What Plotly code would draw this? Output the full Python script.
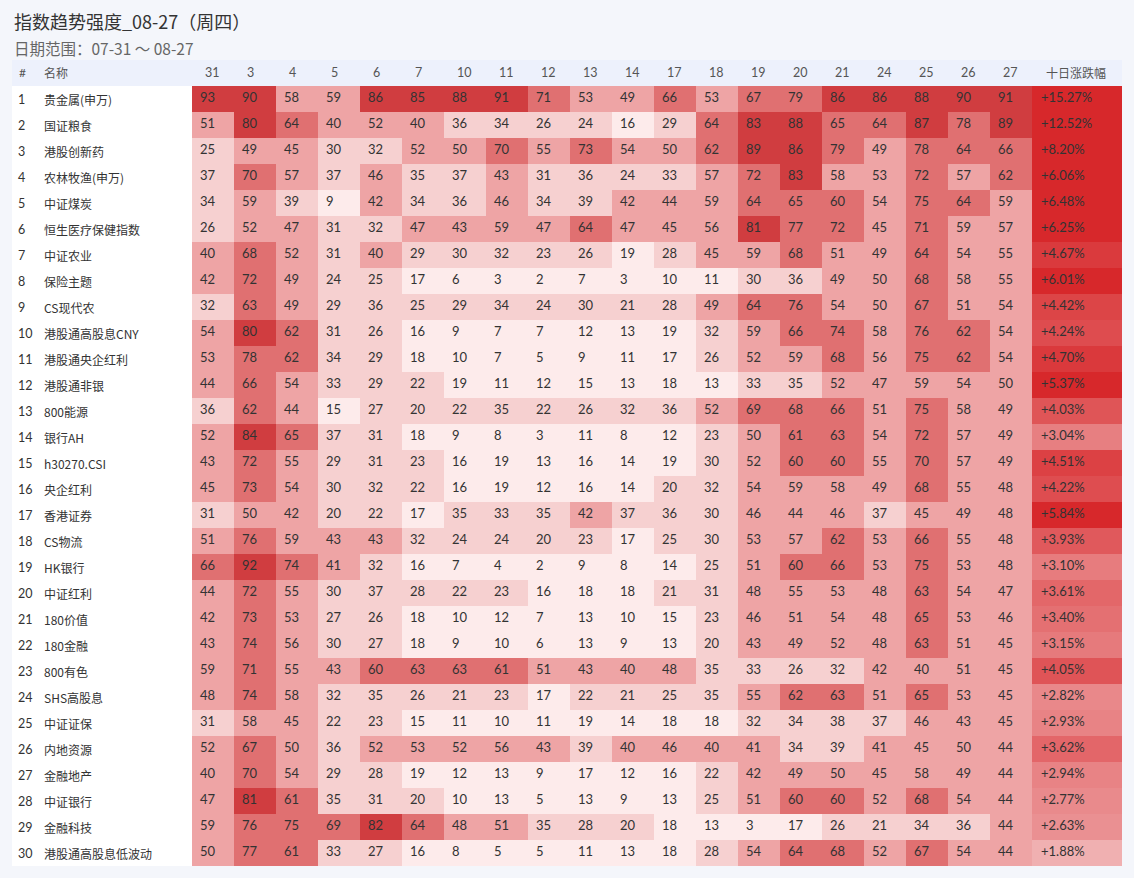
import plotly.graph_objects as go

# ---------------- data ----------------
title_text = "指数趋势强度_08-27（周四）"
subtitle_text = "日期范围：07-31 ～ 08-27"
dates = ["31", "3", "4", "5", "6", "7", "10", "11", "12", "13",
         "14", "17", "18", "19", "20", "21", "24", "25", "26", "27"]
names = ["贵金属(申万)", "国证粮食", "港股创新药", "农林牧渔(申万)", "中证煤炭",
         "恒生医疗保健指数", "中证农业", "保险主题", "CS现代农", "港股通高股息CNY",
         "港股通央企红利", "港股通非银", "800能源", "银行AH", "h30270.CSI",
         "央企红利", "香港证券", "CS物流", "HK银行", "中证红利",
         "180价值", "180金融", "800有色", "SHS高股息", "中证证保",
         "内地资源", "金融地产", "中证银行", "金融科技", "港股通高股息低波动"]
scores = [
    [93, 90, 58, 59, 86, 85, 88, 91, 71, 53, 49, 66, 53, 67, 79, 86, 86, 88, 90, 91],
    [51, 80, 64, 40, 52, 40, 36, 34, 26, 24, 16, 29, 64, 83, 88, 65, 64, 87, 78, 89],
    [25, 49, 45, 30, 32, 52, 50, 70, 55, 73, 54, 50, 62, 89, 86, 79, 49, 78, 64, 66],
    [37, 70, 57, 37, 46, 35, 37, 43, 31, 36, 24, 33, 57, 72, 83, 58, 53, 72, 57, 62],
    [34, 59, 39, 9, 42, 34, 36, 46, 34, 39, 42, 44, 59, 64, 65, 60, 54, 75, 64, 59],
    [26, 52, 47, 31, 32, 47, 43, 59, 47, 64, 47, 45, 56, 81, 77, 72, 45, 71, 59, 57],
    [40, 68, 52, 31, 40, 29, 30, 32, 23, 26, 19, 28, 45, 59, 68, 51, 49, 64, 54, 55],
    [42, 72, 49, 24, 25, 17, 6, 3, 2, 7, 3, 10, 11, 30, 36, 49, 50, 68, 58, 55],
    [32, 63, 49, 29, 36, 25, 29, 34, 24, 30, 21, 28, 49, 64, 76, 54, 50, 67, 51, 54],
    [54, 80, 62, 31, 26, 16, 9, 7, 7, 12, 13, 19, 32, 59, 66, 74, 58, 76, 62, 54],
    [53, 78, 62, 34, 29, 18, 10, 7, 5, 9, 11, 17, 26, 52, 59, 68, 56, 75, 62, 54],
    [44, 66, 54, 33, 29, 22, 19, 11, 12, 15, 13, 18, 13, 33, 35, 52, 47, 59, 54, 50],
    [36, 62, 44, 15, 27, 20, 22, 35, 22, 26, 32, 36, 52, 69, 68, 66, 51, 75, 58, 49],
    [52, 84, 65, 37, 31, 18, 9, 8, 3, 11, 8, 12, 23, 50, 61, 63, 54, 72, 57, 49],
    [43, 72, 55, 29, 31, 23, 16, 19, 13, 16, 14, 19, 30, 52, 60, 60, 55, 70, 57, 49],
    [45, 73, 54, 30, 32, 22, 16, 19, 12, 16, 14, 20, 32, 54, 59, 58, 49, 68, 55, 48],
    [31, 50, 42, 20, 22, 17, 35, 33, 35, 42, 37, 36, 30, 46, 44, 46, 37, 45, 49, 48],
    [51, 76, 59, 43, 43, 32, 24, 24, 20, 23, 17, 25, 30, 53, 57, 62, 53, 66, 55, 48],
    [66, 92, 74, 41, 32, 16, 7, 4, 2, 9, 8, 14, 25, 51, 60, 66, 53, 75, 53, 48],
    [44, 72, 55, 30, 37, 28, 22, 23, 16, 18, 18, 21, 31, 48, 55, 53, 48, 63, 54, 47],
    [42, 73, 53, 27, 26, 18, 10, 12, 7, 13, 10, 15, 23, 46, 51, 54, 48, 65, 53, 46],
    [43, 74, 56, 30, 27, 18, 9, 10, 6, 13, 9, 13, 20, 43, 49, 52, 48, 63, 51, 45],
    [59, 71, 55, 43, 60, 63, 63, 61, 51, 43, 40, 48, 35, 33, 26, 32, 42, 40, 51, 45],
    [48, 74, 58, 32, 35, 26, 21, 23, 17, 22, 21, 25, 35, 55, 62, 63, 51, 65, 53, 45],
    [31, 58, 45, 22, 23, 15, 11, 10, 11, 19, 14, 18, 18, 32, 34, 38, 37, 46, 43, 45],
    [52, 67, 50, 36, 52, 53, 52, 56, 43, 39, 40, 46, 40, 41, 34, 39, 41, 45, 50, 44],
    [40, 70, 54, 29, 28, 19, 12, 13, 9, 17, 12, 16, 22, 42, 49, 50, 45, 58, 49, 44],
    [47, 81, 61, 35, 31, 20, 10, 13, 5, 13, 9, 13, 25, 51, 60, 60, 52, 68, 54, 44],
    [59, 76, 75, 69, 82, 64, 48, 51, 35, 28, 20, 18, 13, 3, 17, 26, 21, 34, 36, 44],
    [50, 77, 61, 33, 27, 16, 8, 5, 5, 11, 13, 18, 28, 54, 64, 68, 52, 67, 54, 44],
]
pct_change = [15.27, 12.52, 8.20, 6.06, 6.48, 6.25, 4.67, 6.01, 4.42, 4.24,
              4.70, 5.37, 4.03, 3.04, 4.51, 4.22, 5.84, 3.93, 3.10, 3.61,
              3.40, 3.15, 4.05, 2.82, 2.93, 3.62, 2.94, 2.77, 2.63, 1.88]
header_hash = "#"
header_name = "名称"
header_pct = "十日涨跌幅"

# ---------------- style / geometry ----------------
W, H = 1134, 878
BG = "#f4f6fb"
HEADER_BG = "#edf1fc"
TXT = "#333333"
HDR_TXT = "#555555"
FONT = "Lato, 'Noto Sans CJK SC', sans-serif"
CJK = "'Noto Sans CJK SC', Lato, sans-serif"

TABLE_L, TABLE_R = 12, 1122
HM_L, HM_R = 192, 1032
HDR_T, BODY_T, BODY_B = 60, 86, 866
COL_W = (HM_R - HM_L) / len(dates)
PCT_W = TABLE_R - HM_R


def px(x):
    return x / W


def py(y):
    return 1 - y / H


bin_colors = ["#fdebeb", "#f6d0d0", "#eea4a5", "#e07071", "#d03d40"]
edges = [0.195, 0.395, 0.595, 0.795]
scale = [[0, bin_colors[0]]]
for i, e in enumerate(edges):
    scale += [[e, bin_colors[i]], [e, bin_colors[i + 1]]]
scale += [[1, bin_colors[-1]]]

n_rows, n_cols = len(names), len(dates)
rows = list(range(n_rows))
cols = list(range(n_cols))

fig = go.Figure()

fig.add_trace(go.Heatmap(
    z=scores, x=cols, y=rows, zmin=0, zmax=100, colorscale=scale,
    showscale=False, hoverinfo="skip", xaxis="x", yaxis="y"))

fig.add_trace(go.Heatmap(
    z=[[v] for v in pct_change], x=[0], y=rows, zmin=0, zmax=5.1,
    colorscale=[[0, "#ffffff"], [1, "#d7282b"]],
    showscale=False, hoverinfo="skip", xaxis="x2", yaxis="y"))

# cell value texts (left aligned inside cells)
pad_cell = 8 / COL_W
tx, ty, tt = [], [], []
for r in rows:
    for c in cols:
        tx.append(c - 0.5 + pad_cell)
        ty.append(r)
        tt.append(str(scores[r][c]))
fig.add_trace(go.Scatter(
    x=tx, y=ty, text=tt, mode="text", textposition="middle right",
    textfont=dict(family=FONT, size=13, color=TXT),
    hoverinfo="skip", showlegend=False, xaxis="x", yaxis="y", cliponaxis=False))

pad_pct = 9 / PCT_W
fig.add_trace(go.Scatter(
    x=[-0.5 + pad_pct] * n_rows, y=rows,
    text=[f"{v:+.2f}%" for v in pct_change], mode="text",
    textposition="middle right",
    textfont=dict(family=FONT, size=13, color=TXT),
    hoverinfo="skip", showlegend=False, xaxis="x2", yaxis="y", cliponaxis=False))

annotations = []
# title / subtitle
annotations.append(dict(text=title_text, xref="paper", yref="paper",
                        x=px(12), y=py(21), xanchor="left", yanchor="middle",
                        showarrow=False, font=dict(family=CJK, size=18, color=TXT)))
annotations.append(dict(text=subtitle_text, xref="paper", yref="paper",
                        x=px(12), y=py(48), xanchor="left", yanchor="middle",
                        showarrow=False, font=dict(family=CJK, size=15.5, color="#666666")))
# header row
hdr_y = py((HDR_T + BODY_T) / 2)
annotations.append(dict(text=header_hash, xref="paper", yref="paper", x=px(17), y=hdr_y,
                        xanchor="left", yanchor="middle", showarrow=False,
                        font=dict(family=FONT, size=12, color=HDR_TXT)))
annotations.append(dict(text=header_name, xref="paper", yref="paper", x=px(42), y=hdr_y,
                        xanchor="left", yanchor="middle", showarrow=False,
                        font=dict(family=CJK, size=12, color=HDR_TXT)))
for c, d in zip(cols, dates):
    annotations.append(dict(text=d, xref="x", yref="paper", x=c - 0.5 + 11 / COL_W, y=hdr_y,
                            xanchor="left", yanchor="middle", showarrow=False,
                            font=dict(family=FONT, size=12.5, color=HDR_TXT)))
annotations.append(dict(text=header_pct, xref="x2", yref="paper", x=-0.5 + 12 / PCT_W, y=hdr_y,
                        xanchor="left", yanchor="middle", showarrow=False,
                        font=dict(family=CJK, size=12, color=HDR_TXT)))
# row numbers and names
for r, nm in zip(rows, names):
    annotations.append(dict(text=str(r + 1), xref="paper", yref="y", x=px(16), y=r,
                            xanchor="left", yanchor="middle", showarrow=False,
                            font=dict(family=FONT, size=12.5, color=TXT)))
    annotations.append(dict(text=nm, xref="paper", yref="y", x=px(42), y=r,
                            xanchor="left", yanchor="middle", showarrow=False,
                            font=dict(family=CJK, size=12, color=TXT)))

shapes = [
    dict(type="rect", xref="paper", yref="paper", x0=px(TABLE_L), x1=px(TABLE_R),
         y0=py(BODY_B), y1=py(BODY_T), fillcolor="#ffffff", line=dict(width=0), layer="below"),
    dict(type="rect", xref="paper", yref="paper", x0=px(TABLE_L), x1=px(TABLE_R),
         y0=py(BODY_T), y1=py(HDR_T), fillcolor=HEADER_BG, line=dict(width=0), layer="below"),
]

fig.update_layout(
    width=W, height=H, margin=dict(l=0, r=0, t=0, b=0),
    paper_bgcolor=BG, plot_bgcolor="rgba(0,0,0,0)",
    showlegend=False,
    xaxis=dict(domain=[px(HM_L), px(HM_R)], range=[-0.5, n_cols - 0.5], visible=False,
               fixedrange=True),
    xaxis2=dict(domain=[px(HM_R), px(TABLE_R)], range=[-0.5, 0.5], visible=False,
                anchor="y", fixedrange=True),
    yaxis=dict(domain=[py(BODY_B), py(BODY_T)], range=[n_rows - 0.5, -0.5], visible=False,
               fixedrange=True),
    annotations=annotations, shapes=shapes,
)

page_fix = (
    "document.body.style.margin='0';"
    "document.body.style.padding='0';"
    "document.body.style.overflow='hidden';"
    f"document.body.style.background='{BG}';"
)
fig.write_html("out.html", post_script=page_fix, config={"displayModeBar": False})
